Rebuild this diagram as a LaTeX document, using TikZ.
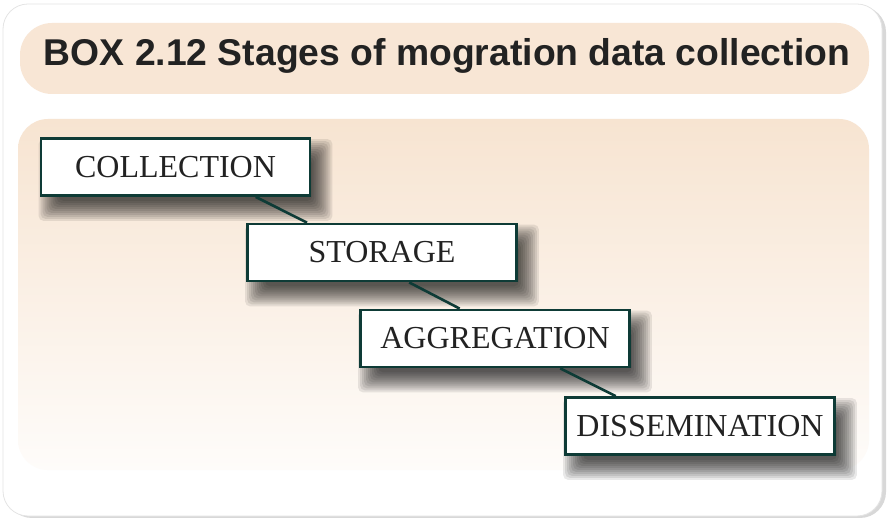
\documentclass[tikz,border=0pt]{standalone}
\usepackage{fontspec}
\setmainfont{Liberation Serif}
\newfontfamily\titlefont{Liberation Sans}
\usetikzlibrary{calc}

\definecolor{peach}{HTML}{F8E6D5}
\definecolor{peachtop}{HTML}{F7E4D1}
\definecolor{bandbottom}{HTML}{FEFCFA}
\definecolor{framegray}{HTML}{E4E4E4}
\definecolor{boxedge}{HTML}{0E3B36}
\definecolor{inkdark}{HTML}{222222}

\pgfdeclarelayer{back}
\pgfdeclarelayer{shade}
\pgfsetlayers{back,shade,main}

\tikzset{
  stagebox/.style={draw=boxedge, line width=2.8pt, fill=white,
    minimum width=269pt, minimum height=57pt, inner sep=0pt,
    font=\fontsize{32}{32}\selectfont, text=inkdark},
  link/.style={draw=boxedge, line width=2.6pt},
}

% soft drop shadow under a node, built from stacked translucent layers
\newcommand\stageshadow[1]{%
  \foreach \e in {11,9,...,-9}{%
    \fill[black, opacity=0.085, rounded corners=5pt]
      ([shift={(10pt-\e pt,-13pt-\e pt)}]#1.south west) rectangle
      ([shift={(10pt+\e pt,-13pt+\e pt)}]#1.north east);
  }%
}

\begin{document}
\begin{tikzpicture}[x=1pt, y=-1pt]
  \useasboundingbox (0,0) rectangle (889,518);

  \begin{pgfonlayer}{back}
    % outer card with a soft shadow
    \fill[gray!60, opacity=0.5, rounded corners=26pt] (6,6) rectangle (886,518);
    \filldraw[fill=white, draw=framegray, line width=0.8pt, rounded corners=25pt]
      (3,4) rectangle (882,516);
    % title band
    \fill[peach, rounded corners=32pt] (20,23) rectangle (869,94);
    % content band fading to white
    \shade[top color=peachtop, bottom color=bandbottom, rounded corners=30pt]
      (18,119) rectangle (869,470);
  \end{pgfonlayer}

  \node[font=\titlefont\bfseries\fontsize{37.3}{38}\selectfont, text=inkdark]
    (title) at (447,56) {BOX 2.12 Stages of mogration data collection};

  % stages
  \node[stagebox] (collection)    at (175.5,167)  {COLLECTION};
  \node[stagebox] (storage)       at (382,252.5)  {STORAGE};
  \node[stagebox] (aggregation)   at (495,338.5)  {AGGREGATION};
  \node[stagebox] (dissemination) at (700,426)    {DISSEMINATION};

  \begin{pgfonlayer}{shade}
    \stageshadow{collection}
    \stageshadow{storage}
    \stageshadow{aggregation}
    \stageshadow{dissemination}
  \end{pgfonlayer}

  % connectors between consecutive stages
  \draw[link] ($(collection.south west)!0.795!(collection.south east)$)
           -- ($(storage.north west)!0.224!(storage.north east)$);
  \draw[link] ($(storage.south west)!0.60!(storage.south east)$)
           -- ($(aggregation.north west)!0.37!(aggregation.north east)$);
  \draw[link] ($(aggregation.south west)!0.74!(aggregation.south east)$)
           -- ($(dissemination.north west)!0.19!(dissemination.north east)$);
\end{tikzpicture}
\end{document}
